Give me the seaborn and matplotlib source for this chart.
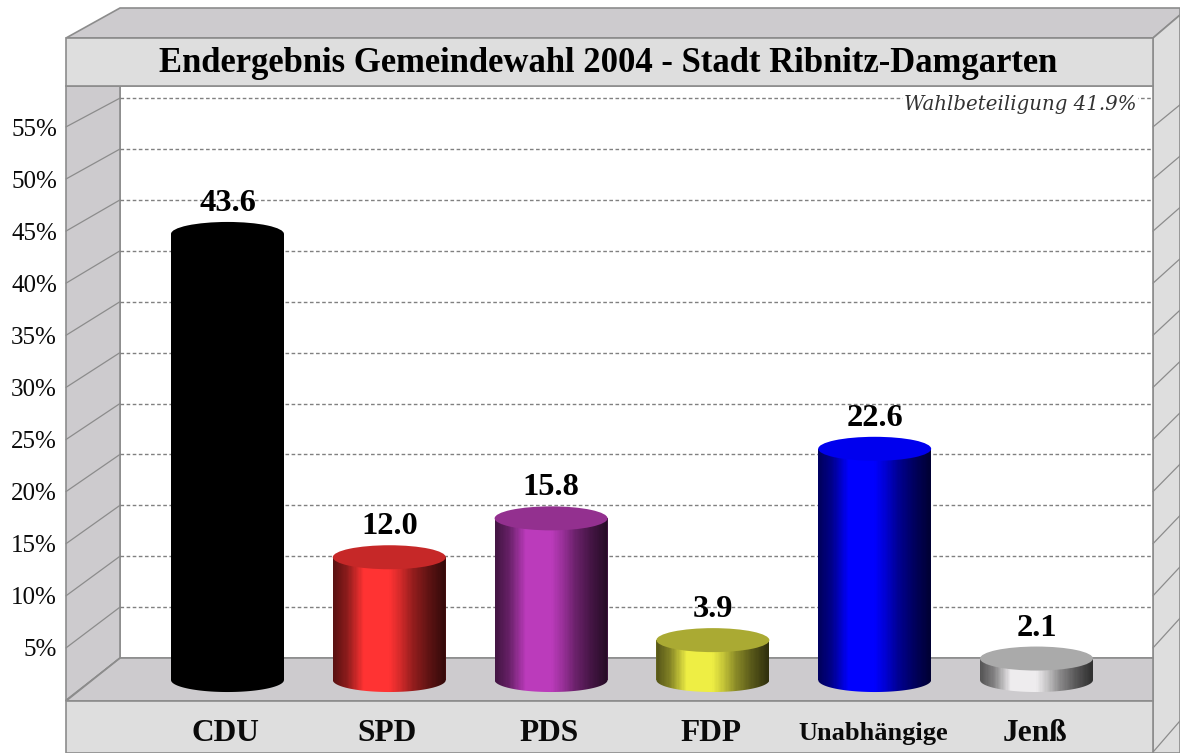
import numpy as np
import pandas as pd
import matplotlib
matplotlib.use("Agg")
import matplotlib.pyplot as plt
import seaborn as sns
from matplotlib.patches import Ellipse, Polygon
from matplotlib.path import Path
from matplotlib.colors import to_rgb
from matplotlib.transforms import ScaledTranslation

# Values
parties = ["CDU", "SPD", "PDS", "FDP", "Unabhängige", "Jenß"]
results = [43.6, 12.0, 15.8, 3.9, 22.6, 2.1]
bar_colors = ["#000000", "#ff3333", "#bb3bbb", "#eeee44", "#0000ff", "#eeecee"]
top_colors = ["#000000", "#c62828", "#93308f", "#aaaa33", "#0000ee", "#aaaaaa"]
levels = [5, 10, 15, 20, 25, 30, 35, 40, 45, 50, 55]
level_labels = ["5%", "10%", "15%", "20%", "25%", "30%", "35%", "40%", "45%", "50%", "55%"]
title_text = "Endergebnis Gemeindewahl 2004 - Stadt Ribnitz-Damgarten"
turnout_text = "Wahlbeteiligung 41.9%"

W, H = 1180, 753
WALL = "#cdcbce"
PANEL = "#dedede"
EDGE = "#8c8c8c"

sns.set_theme(style="white")
plt.rcParams["font.family"] = ["Liberation Serif", "DejaVu Serif"]

fig = plt.figure(figsize=(W / 100, H / 100), dpi=100, facecolor="white")


def px_axes(left, top, right, bottom):
    return fig.add_axes([left / W, 1 - bottom / H, (right - left) / W, (bottom - top) / H])


# Box frame, in pixels
frame = px_axes(0, 0, W, H)
frame.set_xlim(0, W)
frame.set_ylim(H, 0)
frame.axis("off")


def shape(points, color):
    frame.add_patch(Polygon(points, closed=True, facecolor=color, edgecolor=EDGE, linewidth=1.2))


shape([(66, 38), (120, 8), (1180, 8), (1180, 15), (1153, 38)], WALL)
shape([(1153, 38), (1180, 15), (1180, 753), (1153, 753)], PANEL)
shape([(120, 86), (1153, 86), (1153, 658), (120, 658)], "white")
shape([(66, 86), (120, 86), (120, 658), (66, 701)], WALL)
shape([(66, 701), (120, 658), (1153, 658), (1153, 701)], WALL)
shape([(66, 38), (1153, 38), (1153, 86), (66, 86)], PANEL)
shape([(66, 701), (1153, 701), (1153, 753), (66, 753)], PANEL)
frame.text(608, 63, title_text, ha="center", va="center", fontsize=24.9, fontweight="bold", color="black")


def front_y(v):
    return 700 - 10.42 * v


def back_y(v):
    return 658 - 10.18 * v


for v in [0] + levels:
    frame.plot([66, 120], [front_y(v), back_y(v)], color=EDGE, lw=0.9)
for v in [-5] + levels:
    y0 = front_y(v)
    slope = 0.77 + 0.33 * (y0 - 36) / 612
    frame.plot([1153, 1180], [y0, y0 - 27 * slope], color=EDGE, lw=0.9)

# Dashed grid on the back wall
wall = px_axes(120, 86, 1153, 658)
wall.patch.set_alpha(0)
wall.set_ylim(0, 572 / 10.18)
wall.set_xlim(0, 1)
wall.set_yticks(levels)
wall.set_xticks([])
wall.tick_params(left=False, labelleft=False)
wall.grid(True, axis="y", color="#808080", linestyle=(0, (2.6, 1.8)), linewidth=1)
sns.despine(ax=wall, left=True, bottom=True, top=True, right=True)
wall.text(0.984, 0.9685, turnout_text, transform=wall.transAxes, ha="right", va="center",
          fontsize=14.2, style="italic", family="DejaVu Serif", color="#333333",
          bbox=dict(facecolor="white", edgecolor="none", pad=1))

# Percent labels sit on the front edge of the left wall
front = px_axes(66, 127, 120, 700)
front.patch.set_alpha(0)
front.set_ylim(0, 55)
front.set_xticks([])
front.set_yticks(levels)
front.set_yticklabels(level_labels, fontsize=18, color="#0a0a0a")
front.tick_params(axis="y", left=False, length=0, pad=6.5)
sns.despine(ax=front, left=True, bottom=True, top=True, right=True)

# Bars
ax = px_axes(66, 86, 1153, 701)
ax.patch.set_alpha(0)
df = pd.DataFrame({"party": parties, "result": results})
sns.barplot(data=df, x="party", y="result", hue="party", palette=bar_colors, order=parties,
            hue_order=parties, legend=False, dodge=False, width=0.698, saturation=1, ax=ax)
xlim = (-0.998, 5.72)
ylim = (-2.05, 58.06)
ax.set_xlim(xlim)
ax.set_ylim(ylim)
ax.set_xlabel("")
ax.set_ylabel("")
ax.set_yticks([])
sns.despine(ax=ax, left=True, bottom=True, top=True, right=True)

px_h = 615 / (ylim[1] - ylim[0])
ell_h = 24 / px_h
shade_pos = [0, 0.12, 0.27, 0.5, 0.6, 0.71, 0.86, 1]
shade_val = [0.36, 0.55, 1, 1, 0.82, 0.58, 0.36, 0.2]

for cont, color, top in zip(ax.containers, bar_colors, top_colors):
    rgb = np.array(to_rgb(color))
    for p in cont.patches:
        x0, w, h = p.get_x(), p.get_width(), p.get_height()
        p.set_facecolor(rgb * 0.5)
        p.set_linewidth(0)
        t = np.linspace(np.pi, 2 * np.pi, 60)
        low = np.column_stack([x0 + w / 2 + w / 2 * np.cos(t), ell_h / 2 * np.sin(t)])
        verts = np.vstack([[[x0, h]], low, [[x0 + w, h]], [[x0, h]]])
        clip = Path(verts, closed=True)
        cols = np.linspace(0, 1, 90)
        grad = np.interp(cols, shade_pos, shade_val)[None, :, None] * rgb
        im = ax.imshow(grad, extent=(x0, x0 + w, -ell_h, h), aspect="auto", interpolation="nearest", zorder=3)
        im.set_clip_path(clip, transform=ax.transData)
        ax.add_patch(Ellipse((x0 + w / 2, h), w, ell_h, facecolor=top, edgecolor="none", zorder=4))
    ax.bar_label(cont, fmt="%.1f", padding=11.5, fontsize=23.4, fontweight="bold", color="black", zorder=5)
ax.set_xlim(xlim)
ax.set_ylim(ylim)

ax.tick_params(axis="x", bottom=False, length=0, pad=23.4)
nudge = ScaledTranslation(-2 / 100, 0, fig.dpi_scale_trans)
for lab in ax.get_xticklabels():
    lab.set_fontweight("bold")
    lab.set_color("#0a0a0a")
    lab.set_fontsize(19 if lab.get_text() == "Unabhängige" else 22.6)
    lab.set_verticalalignment("center")
    lab.set_transform(lab.get_transform() + nudge)

fig.savefig("out.png", dpi=100)
